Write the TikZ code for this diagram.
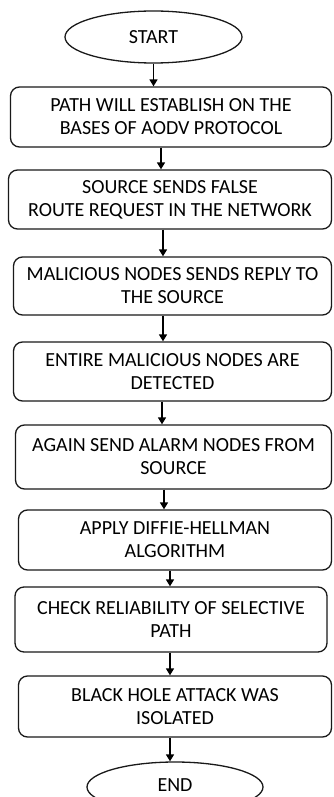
\documentclass[tikz,border=0pt]{standalone}
\usepackage{fontspec}
\setmainfont{Carlito}
\usetikzlibrary{shapes.geometric,arrows.meta}
\tikzset{
  box/.style={draw=black!90, line width=1.3pt, rounded corners=9pt, align=center,
    inner sep=0pt, font=\fontsize{20}{23}\selectfont},
  oval/.style={draw=black!90, line width=1.3pt, ellipse, inner sep=0pt,
    font=\fontsize{20}{23}\selectfont},
  arr/.style={line width=1.6pt, -{Triangle[length=7pt,width=8pt]}}
}
\begin{document}
\begin{tikzpicture}[x=1pt,y=-1pt]
\useasboundingbox (0,0) rectangle (334,797);
\clip (0,0) rectangle (334,797);
\node[oval, minimum width=177pt, minimum height=52pt] (s) at (153.5,37) {START};
\node[box, minimum width=321pt, minimum height=60pt] (b1) at (171,117) {PATH WILL ESTABLISH ON THE\\BASES OF AODV PROTOCOL};
\node[box, minimum width=323pt, minimum height=59pt] (b2) at (170,199.5) {SOURCE SENDS FALSE\\ROUTE REQUEST IN THE NETWORK};
\node[box, minimum width=318pt, minimum height=58pt] (b3) at (172.5,286) {MALICIOUS NODES SENDS REPLY TO\\THE SOURCE};
\node[box, minimum width=318pt, minimum height=59pt] (b4) at (172.5,371.5) {ENTIRE MALICIOUS NODES ARE\\DETECTED};
\node[box, minimum width=316pt, minimum height=64pt] (b5) at (173.5,457) {AGAIN SEND ALARM NODES FROM\\SOURCE};
\node[box, minimum width=313pt, minimum height=60pt] (b6) at (175,540) {APPLY DIFFIE-HELLMAN\\ALGORITHM};
\node[box, minimum width=312pt, minimum height=65pt] (b7) at (171,619.5) {CHECK RELIABILITY OF SELECTIVE\\PATH};
\node[box, minimum width=313pt, minimum height=61pt] (b8) at (175,706.5) {BLACK HOLE ATTACK WAS\\ISOLATED};
\node[oval, minimum width=176pt, minimum height=50pt] (e) at (175,787) {};
\node[font=\fontsize{20}{23}\selectfont] (et) at (175,785) {END};
\coordinate (x2) at (161,0);
\coordinate (x3) at (163,0);
\coordinate (x4) at (163,0);
\coordinate (x5) at (162,0);
\coordinate (x6) at (164,0);
\coordinate (x7) at (170,0);
\draw[arr] (s.south) -- (b1.north -| s);
\draw[arr] (b1.south -| x2) -- (b2.north -| x2);
\draw[arr] (b2.south -| x3) -- (b3.north -| x3);
\draw[arr] (b3.south -| x4) -- (b4.north -| x4);
\draw[arr] (b4.south -| x5) -- (b5.north -| x5);
\draw[arr] (b5.south -| x6) -- (b6.north -| x6);
\draw[arr] (b6.south -| x7) -- (b7.north -| x7);
\draw[arr] (b7.south -| x7) -- (b8.north -| x7);
\draw[arr] (b8.south -| x7) -- (e.north -| x7);
\end{tikzpicture}
\end{document}
